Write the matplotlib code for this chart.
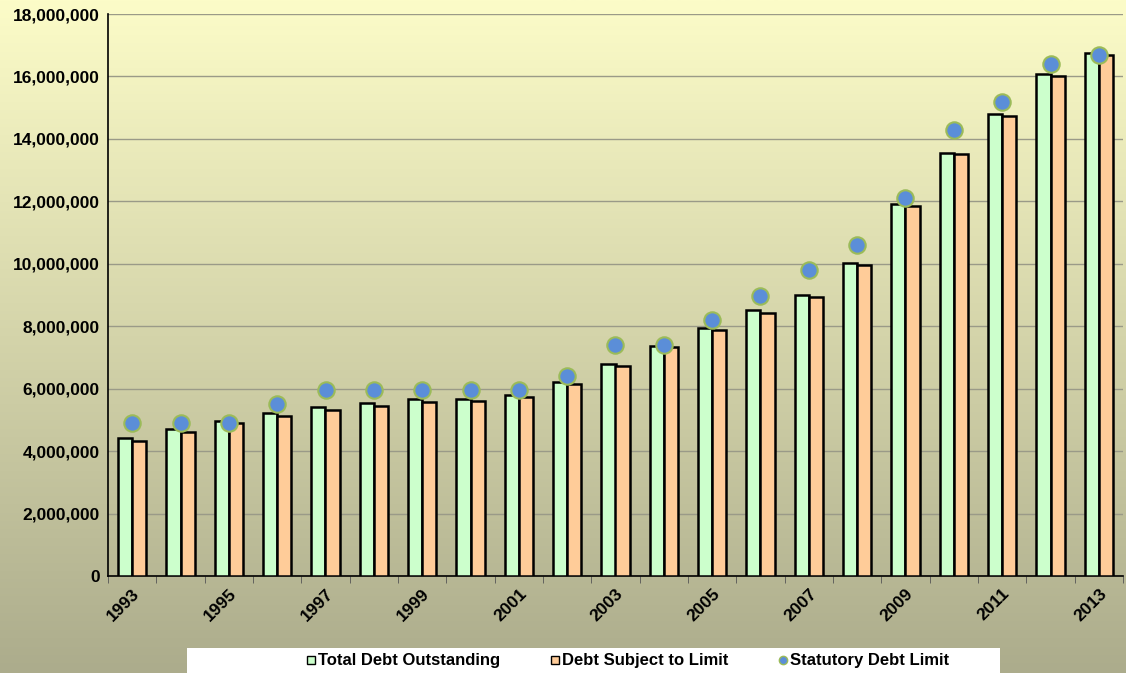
import matplotlib
matplotlib.use('Agg')
import matplotlib.pyplot as plt
import numpy as np
from matplotlib.ticker import FuncFormatter
from matplotlib.lines import Line2D
from matplotlib.patches import Rectangle

plt.rcParams['font.family'] = ['Liberation Sans', 'DejaVu Sans']
plt.rcParams['font.weight'] = 'bold'

years = list(range(1993, 2014))

total_debt = [4411489, 4692750, 4973983, 5224811, 5413146, 5526193, 5656271,
              5674178, 5807463, 6228236, 6783231, 7379053, 7932710, 8506974,
              9007653, 10024725, 11909829, 13561623, 14790340, 16066241, 16738184]

subject_to_limit = [4315571, 4605338, 4884605, 5137195, 5327624, 5439447, 5567694,
                    5591625, 5732802, 6161431, 6737553, 7333350, 7871040, 8420278,
                    8921343, 9959939, 11853134, 13510840, 14746553, 16027000, 16699396]

statutory_limit = [4900000, 4900000, 4900000, 5500000, 5950000, 5950000, 5950000,
                   5950000, 5950000, 6400000, 7384000, 7384000, 8184000, 8965000,
                   9815000, 10615000, 12104000, 14294000, 15194000, 16394000, 16699421]

ftSize = 12.5

fig = plt.figure(figsize=(11.26, 6.73), dpi=100)

# background gradient over the whole figure
bg = fig.add_axes([0, 0, 1, 1], zorder=-10)
top = np.array([252, 252, 200]) / 255.0
bot = np.array([172, 172, 140]) / 255.0
t = np.linspace(0, 1, 256)[:, None]
grad = (top * (1 - t) + bot * t)[:, None, :]
bg.imshow(grad, aspect='auto', extent=[0, 1, 0, 1], origin='upper')
bg.set_xlim(0, 1)
bg.set_ylim(0, 1)
bg.set_axis_off()
# white strip behind the legend
bg.add_patch(Rectangle((187 / 1126, 0), (1000 - 187) / 1126, 25 / 673, facecolor='white', edgecolor='none'))

ax = fig.add_axes([108 / 1126, 1 - 576 / 673, (1123 - 108) / 1126, (576 - 14) / 673])
ax.patch.set_alpha(0)

x = np.arange(len(years))
w = 0.29
ax.bar(x - w / 2, total_debt, width=w, color='#CCFFCC', edgecolor='black', linewidth=1.8, zorder=3)
ax.bar(x + w / 2, subject_to_limit, width=w, color='#FFCC99', edgecolor='black', linewidth=1.8, zorder=3)
ax.scatter(x, statutory_limit, s=140, color='#5B8ED8', edgecolor='#9BBB59', linewidth=1.5, zorder=4)

ax.set_xlim(-0.5, len(years) - 0.5)
ax.set_ylim(0, 18000000)
ax.set_yticks(np.arange(0, 18000001, 2000000))
ax.yaxis.set_major_formatter(FuncFormatter(lambda v, p: '{:,.0f}'.format(v)))
ax.grid(axis='y', color='#9a9a88', linewidth=1.0, zorder=0)

ax.set_xticks(x)
ax.set_xticklabels([str(y) if (y - 1993) % 2 == 0 else '' for y in years],
                   rotation=45, ha='right', rotation_mode='anchor', fontsize=ftSize, fontweight='bold')
ax.set_xticks(np.arange(-0.5, len(years), 1), minor=True)
ax.tick_params(axis='x', which='major', length=0, pad=7)
ax.tick_params(axis='x', which='minor', length=5, color='#555555')
ax.tick_params(axis='y', length=0, labelsize=ftSize, pad=6)
for lab in ax.get_yticklabels():
    lab.set_fontweight('bold')

for s in ['top', 'right']:
    ax.spines[s].set_visible(False)
ax.spines['left'].set_color('black')
ax.spines['bottom'].set_color('black')
ax.spines['left'].set_linewidth(1.2)
ax.spines['bottom'].set_linewidth(1.2)

# legend at bottom
handles = [
    Line2D([], [], marker='s', linestyle='none', markersize=6, markerfacecolor='#CCFFCC', markeredgecolor='black', markeredgewidth=1.0),
    Line2D([], [], marker='s', linestyle='none', markersize=6, markerfacecolor='#FFCC99', markeredgecolor='black', markeredgewidth=1.0),
    Line2D([], [], marker='o', linestyle='none', markersize=6, markerfacecolor='#5B8ED8', markeredgecolor='#9BBB59', markeredgewidth=1.0),
]
labels = ['Total Debt Outstanding', 'Debt Subject to Limit', 'Statutory Debt Limit']
leg = fig.legend(handles, labels, loc='center', bbox_to_anchor=(628 / 1126, 12 / 673),
                 ncol=3, frameon=False, handlelength=0.5, handletextpad=0.2, columnspacing=3.0,
                 borderpad=0.0, prop={'weight': 'bold', 'size': 12})

fig.savefig('out.png', dpi=100)
